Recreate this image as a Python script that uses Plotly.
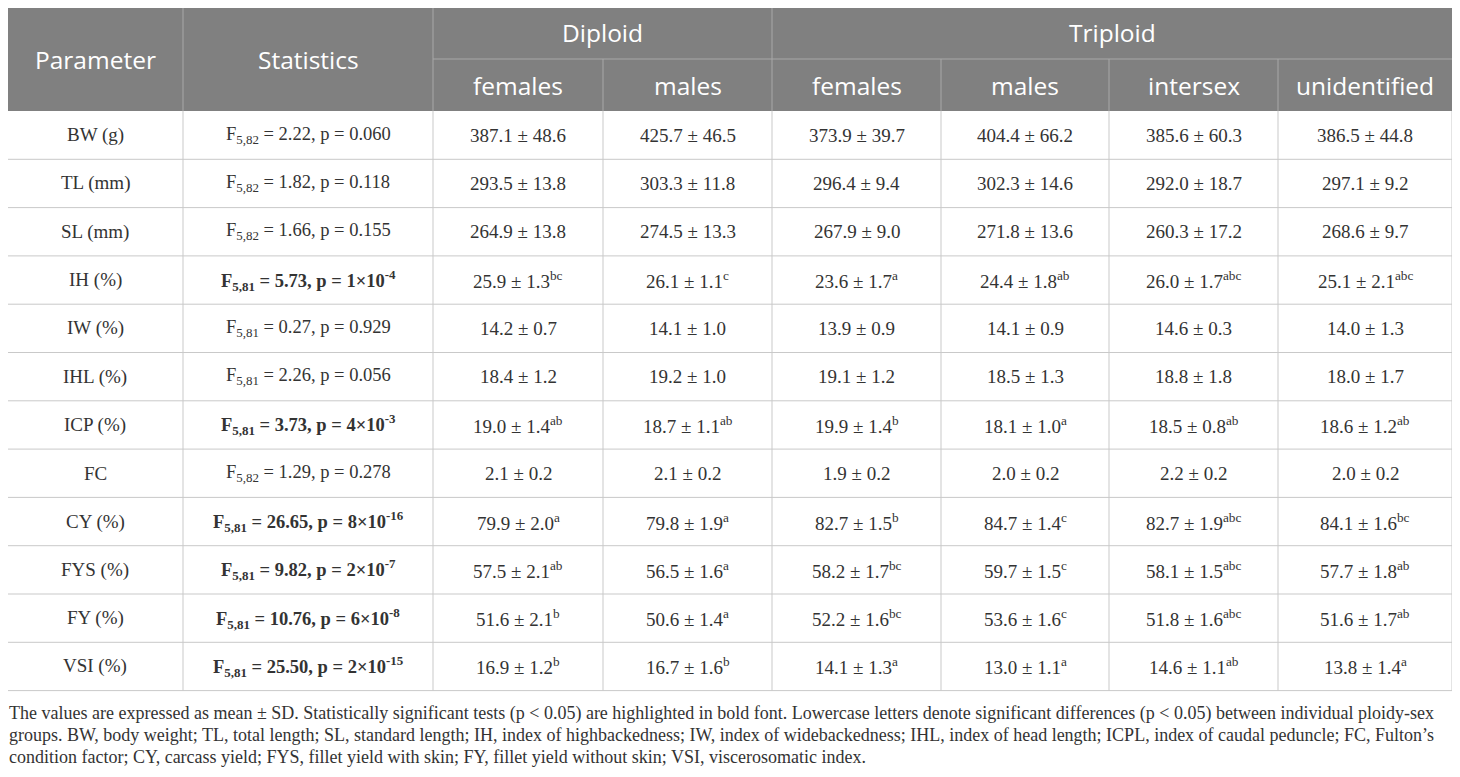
import plotly.graph_objects as go

# table content
params = ["BW (g)", "TL (mm)", "SL (mm)", "IH (%)", "IW (%)", "IHL (%)",
          "ICP (%)", "FC", "CY (%)", "FYS (%)", "FY (%)", "VSI (%)"]
df2 = [82, 82, 82, 81, 81, 81, 81, 82, 81, 81, 81, 81]
f_vals = ["2.22", "1.82", "1.66", "5.73", "0.27", "2.26",
          "3.73", "1.29", "26.65", "9.82", "10.76", "25.50"]
p_vals = ["0.060", "0.118", "0.155", "1e-4", "0.929", "0.056",
          "4e-3", "0.278", "8e-16", "2e-7", "6e-8", "2e-15"]

ploidy = ["Diploid", "Triploid"]
groups = ["females", "males", "females", "males", "intersex", "unidentified"]

means = [
    [387.1, 425.7, 373.9, 404.4, 385.6, 386.5],
    [293.5, 303.3, 296.4, 302.3, 292.0, 297.1],
    [264.9, 274.5, 267.9, 271.8, 260.3, 268.6],
    [25.9, 26.1, 23.6, 24.4, 26.0, 25.1],
    [14.2, 14.1, 13.9, 14.1, 14.6, 14.0],
    [18.4, 19.2, 19.1, 18.5, 18.8, 18.0],
    [19.0, 18.7, 19.9, 18.1, 18.5, 18.6],
    [2.1, 2.1, 1.9, 2.0, 2.2, 2.0],
    [79.9, 79.8, 82.7, 84.7, 82.7, 84.1],
    [57.5, 56.5, 58.2, 59.7, 58.1, 57.7],
    [51.6, 50.6, 52.2, 53.6, 51.8, 51.6],
    [16.9, 16.7, 14.1, 13.0, 14.6, 13.8],
]
sds = [
    [48.6, 46.5, 39.7, 66.2, 60.3, 44.8],
    [13.8, 11.8, 9.4, 14.6, 18.7, 9.2],
    [13.8, 13.3, 9.0, 13.6, 17.2, 9.7],
    [1.3, 1.1, 1.7, 1.8, 1.7, 2.1],
    [0.7, 1.0, 0.9, 0.9, 0.3, 1.3],
    [1.2, 1.0, 1.2, 1.3, 1.8, 1.7],
    [1.4, 1.1, 1.4, 1.0, 0.8, 1.2],
    [0.2, 0.2, 0.2, 0.2, 0.2, 0.2],
    [2.0, 1.9, 1.5, 1.4, 1.9, 1.6],
    [2.1, 1.6, 1.7, 1.5, 1.5, 1.8],
    [2.1, 1.4, 1.6, 1.6, 1.6, 1.7],
    [1.2, 1.6, 1.3, 1.1, 1.1, 1.4],
]
letters = [
    [""] * 6, [""] * 6, [""] * 6,
    ["bc", "c", "a", "ab", "abc", "abc"],
    [""] * 6, [""] * 6,
    ["ab", "ab", "b", "a", "ab", "ab"],
    [""] * 6,
    ["a", "a", "b", "c", "abc", "bc"],
    ["ab", "a", "bc", "c", "abc", "ab"],
    ["b", "a", "bc", "c", "abc", "ab"],
    ["b", "b", "a", "a", "ab", "a"],
]

footnote = [
    "The values are expressed as mean ± SD. Statistically significant tests (p < 0.05) are highlighted in bold font. "
    "Lowercase letters denote significant differences (p < 0.05) between individual ploidy-sex",
    "groups. BW, body weight; TL, total length; SL, standard length; IH, index of highbackedness; IW, index of "
    "widebackedness; IHL, index of head length; ICPL, index of caudal peduncle; FC, Fulton’s",
    "condition factor; CY, carcass yield; FYS, fillet yield with skin; FY, fillet yield without skin; VSI, "
    "viscerosomatic index.",
]

# page geometry (pixels); the html body keeps an 8px margin,
# so the figure is shrunk and the axes are set in page pixels
W, H = 1460, 777
PAD = 8
col_w = [176, 250, 170, 169, 169, 168, 169, 174]
x_edges = [7]
for w in col_w:
    x_edges.append(x_edges[-1] + w)
top, h_mid, h_bot = 7, 59, 111
row_h = 48.3
y_edges = [h_bot + i * row_h for i in range(len(params) + 1)]

HEAD_BG = "#808080"
HEAD_LINE = "#a8a8a8"
GRID = "#c9c9c9"
TXT = "#333333"
SERIF = "Liberation Serif"
SANS = "Open Sans"


def fmt_p(p):
    if "e" in p:
        m, e = p.split("e")
        return f"{m}×10<sup>{e}</sup>"
    return p


shapes = []
ann = []


def line(x0, y0, x1, y1, color):
    shapes.append(dict(type="line", xref="x", yref="y", x0=x0, y0=y0, x1=x1, y1=y1,
                       line=dict(color=color, width=1), layer="above"))


def text(x, y, s, size, color, family, xanchor="center", xshift=0):
    ann.append(dict(x=x, y=y, xref="x", yref="y", text=s, showarrow=False,
                    xanchor=xanchor, yanchor="middle", xshift=xshift,
                    font=dict(size=size, color=color, family=family)))


# header background
shapes.append(dict(type="rect", xref="x", yref="y", x0=x_edges[0], x1=x_edges[-1],
                   y0=top, y1=h_bot, fillcolor=HEAD_BG, line=dict(width=0), layer="below"))

# header lines
for i, xe in enumerate(x_edges):
    if i in (0, len(x_edges) - 1):
        continue
    if i in (1, 2, 4):
        line(xe, top, xe, h_bot, HEAD_LINE)
    else:
        line(xe, h_mid, xe, h_bot, HEAD_LINE)
line(x_edges[2], h_mid, x_edges[-1], h_mid, HEAD_LINE)

# header text
hs = 24.5
text((x_edges[0] + x_edges[1]) / 2, (top + h_bot) / 2, "Parameter", hs, "white", SANS)
text((x_edges[1] + x_edges[2]) / 2, (top + h_bot) / 2, "Statistics", hs, "white", SANS)
text((x_edges[2] + x_edges[4]) / 2, (top + h_mid) / 2 - 1, ploidy[0], hs, "white", SANS)
text((x_edges[4] + x_edges[8]) / 2, (top + h_mid) / 2 - 1, ploidy[1], hs, "white", SANS)
for j, g in enumerate(groups):
    text((x_edges[j + 2] + x_edges[j + 3]) / 2, (h_mid + h_bot) / 2, g, hs, "white", SANS)

# body grid
for ye in y_edges[1:]:
    line(x_edges[0], ye, x_edges[-1], ye, GRID)
for xe in x_edges:
    line(xe, y_edges[0], xe, y_edges[-1], GRID)

# body text
bs = 19
for i, prm in enumerate(params):
    yc = (y_edges[i] + y_edges[i + 1]) / 2
    text((x_edges[0] + x_edges[1]) / 2, yc, prm, bs, TXT, SERIF)
    st = f"F<sub>5,{df2[i]}</sub> = {f_vals[i]}, p = {fmt_p(p_vals[i])}"
    if float(p_vals[i]) < 0.05:
        st = f"<b>{st}</b>"
    text((x_edges[1] + x_edges[2]) / 2, yc, st, 18.5, TXT, SERIF)
    for j in range(len(groups)):
        s = f"{means[i][j]:.1f} ± {sds[i][j]:.1f}"
        if letters[i][j]:
            s += f"<sup>{letters[i][j]}</sup>"
        text((x_edges[j + 2] + x_edges[j + 3]) / 2, yc, s, bs, TXT, SERIF)

# footnote (anchored just inside the axis range so it is not hidden)
for k, ln in enumerate(footnote):
    text(PAD, 713 + k * 22, ln, 18, TXT, SERIF, xanchor="left", xshift=x_edges[0] - PAD)

fig = go.Figure()
fig.update_layout(
    width=W - 2 * PAD, height=H - 2 * PAD,
    margin=dict(l=0, r=0, t=0, b=0),
    paper_bgcolor="white", plot_bgcolor="white",
    xaxis=dict(range=[PAD, W - PAD], visible=False, fixedrange=True),
    yaxis=dict(range=[H - PAD, PAD], visible=False, fixedrange=True),
    shapes=shapes, annotations=ann, showlegend=False,
)
fig.write_html("out.html")
